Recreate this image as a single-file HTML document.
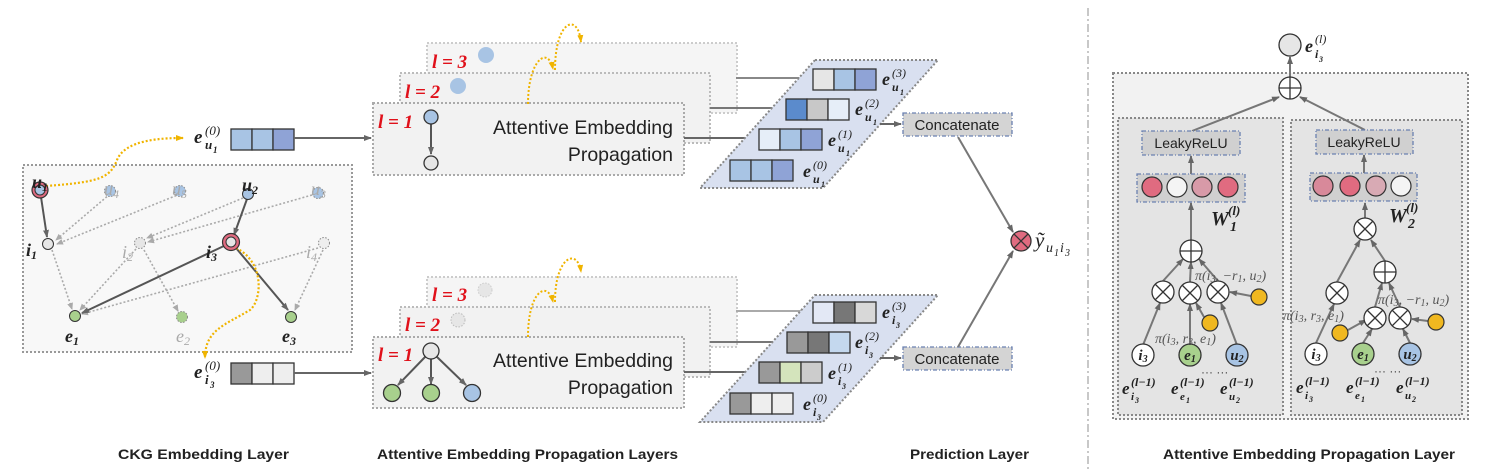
<!DOCTYPE html>
<html><head><meta charset="utf-8"><style>
html,body{margin:0;padding:0;background:#fff;}
svg{display:block;font-family:"Liberation Sans",sans-serif;}
.m{font-family:"Liberation Serif",serif;font-style:italic;font-weight:bold;}
.ms{font-family:"Liberation Serif",serif;font-style:italic;}
</style></head><body>
<svg width="1510" height="476" viewBox="0 0 1510 476" xmlns="http://www.w3.org/2000/svg">
<defs>
<marker id="a" markerWidth="8" markerHeight="8" refX="7" refY="4" orient="auto" markerUnits="userSpaceOnUse"><path d="M0,1 L8,4 L0,7 z" fill="#666"/></marker>
<marker id="ag" markerWidth="7" markerHeight="7" refX="6" refY="3.5" orient="auto" markerUnits="userSpaceOnUse"><path d="M0,0.5 L7,3.5 L0,6.5 z" fill="#aaa"/></marker>
<marker id="ay" markerWidth="8" markerHeight="8" refX="7" refY="4" orient="auto" markerUnits="userSpaceOnUse"><path d="M0,1 L8,4 L0,7 z" fill="#f0b400"/></marker>
</defs>

<rect x="23" y="165" width="329" height="187" fill="#f8f8f8" stroke="#999" stroke-width="2" stroke-dasharray="2,2"/>
<g stroke="#aaa" stroke-width="1.6" stroke-dasharray="2,2" fill="none" marker-end="url(#ag)">
<line x1="110" y1="194" x2="56" y2="240"/>
<line x1="180" y1="194" x2="57" y2="244"/>
<line x1="243" y1="198" x2="147" y2="238"/>
<line x1="312" y1="195" x2="148" y2="242"/>
<line x1="52" y1="250" x2="72" y2="309"/>
<line x1="136" y1="249" x2="80" y2="310"/>
<line x1="144" y1="250" x2="178" y2="311"/>
<line x1="318" y1="248" x2="82" y2="314"/>
<line x1="323" y1="250" x2="295" y2="310"/>
</g>
<g stroke="#555" stroke-width="2" fill="none" marker-end="url(#a)">
<line x1="41" y1="197" x2="47" y2="237"/>
<line x1="247" y1="199" x2="234" y2="235"/>
<line x1="226" y1="245" x2="82" y2="313"/>
<line x1="236" y1="248" x2="288" y2="310"/>
</g>
<path d="M46,186 C100,182 110,178 117,160 C125,140 160,138 183,138" stroke="#f0b400" stroke-width="2.2" stroke-dasharray="2,2" fill="none" marker-end="url(#ay)"/>
<path d="M236,248 C265,262 262,300 250,310 C225,325 205,330 205,358" stroke="#f0b400" stroke-width="2.2" stroke-dasharray="2,2" fill="none" marker-end="url(#ay)"/>
<circle cx="40" cy="190" r="8" fill="#e06b80" stroke="#333" stroke-width="1.2"/>
<circle cx="40" cy="190" r="5" fill="#a8c4e4" stroke="#333" stroke-width="1"/>
<circle cx="110" cy="191" r="5.5" fill="#a8c4e4" stroke="#888" stroke-dasharray="1.5,1.5"/>
<circle cx="180" cy="191" r="5.5" fill="#a8c4e4" stroke="#888" stroke-dasharray="1.5,1.5"/>
<circle cx="248" cy="194" r="5.5" fill="#a8c4e4" stroke="#333"/>
<circle cx="318" cy="193" r="5.5" fill="#a8c4e4" stroke="#888" stroke-dasharray="1.5,1.5"/>
<circle cx="48" cy="244" r="5.5" fill="#e6e6e6" stroke="#333"/>
<circle cx="140" cy="243" r="5.5" fill="#e6e6e6" stroke="#888" stroke-dasharray="1.5,1.5"/>
<circle cx="231" cy="242" r="8.5" fill="#e06b80" stroke="#333" stroke-width="1.2"/>
<circle cx="231" cy="242" r="5" fill="#e6e6e6" stroke="#333"/>
<circle cx="324" cy="243" r="5.5" fill="#eee" stroke="#888" stroke-dasharray="1.5,1.5"/>
<circle cx="75" cy="316" r="5.5" fill="#a8d08d" stroke="#333"/>
<circle cx="182" cy="317" r="5.5" fill="#a8d08d" stroke="#888" stroke-dasharray="1.5,1.5"/>
<circle cx="291" cy="317" r="5.5" fill="#a8d08d" stroke="#333"/>
<g class="m" font-size="18" fill="#222">
<text x="32" y="188">u<tspan font-size="12" dy="3">1</tspan></text>
<text x="242" y="191">u<tspan font-size="12" dy="3">2</tspan></text>
<text x="26" y="256">i<tspan font-size="12" dy="3">1</tspan></text>
<text x="206" y="258">i<tspan font-size="12" dy="3">3</tspan></text>
<text x="65" y="342">e<tspan font-size="12" dy="3">1</tspan></text>
<text x="282" y="342">e<tspan font-size="12" dy="3">3</tspan></text>
</g>
<g class="ms" font-size="18" fill="#aaa">
<text x="104" y="195">u<tspan font-size="12" dy="3">4</tspan></text>
<text x="172" y="195">u<tspan font-size="12" dy="3">5</tspan></text>
<text x="311" y="195">u<tspan font-size="12" dy="3">3</tspan></text>
<text x="122" y="258">i<tspan font-size="12" dy="3">2</tspan></text>
<text x="306" y="258">i<tspan font-size="12" dy="3">4</tspan></text>
<text x="176" y="342">e<tspan font-size="12" dy="3">2</tspan></text>
</g>

<g stroke="#333" stroke-width="1.3">
<rect x="231" y="129" width="21" height="21" fill="#a8c4e4"/><rect x="252" y="129" width="21" height="21" fill="#a8c4e4"/><rect x="273" y="129" width="21" height="21" fill="#8fa3d6"/>
<rect x="231" y="363" width="21" height="21" fill="#999"/><rect x="252" y="363" width="21" height="21" fill="#eee"/><rect x="273" y="363" width="21" height="21" fill="#eee"/>
</g>
<g class="m" fill="#222">
<g transform="translate(194,143)"><text font-size="19">e</text><text x="11" y="6" font-size="13">u</text><text x="19" y="10" font-size="9">1</text><text x="11" y="-8" font-size="13" class="ms" font-weight="normal">(0)</text></g>
<g transform="translate(194,378)"><text font-size="19">e</text><text x="11" y="6" font-size="13">i</text><text x="16" y="10" font-size="9">3</text><text x="11" y="-8" font-size="13" class="ms" font-weight="normal">(0)</text></g>
</g>
<line x1="294" y1="138" x2="371" y2="138" stroke="#666" stroke-width="2" marker-end="url(#a)"/>
<line x1="294" y1="373" x2="371" y2="373" stroke="#666" stroke-width="2" marker-end="url(#a)"/>

<g stroke="#aaa" stroke-width="2" stroke-dasharray="2,2" fill="#f2f2f2">
<rect x="427" y="43" width="310" height="70" stroke="#ccc" fill="#f5f5f5"/>
<rect x="400" y="73" width="310" height="70" stroke="#bbb"/>
<rect x="373" y="103" width="311" height="72"/>
</g>
<line x1="736" y1="78" x2="811" y2="78" stroke="#888" stroke-width="2" marker-end="url(#a)"/>
<line x1="710" y1="108" x2="784" y2="108" stroke="#777" stroke-width="2" marker-end="url(#a)"/>
<line x1="684" y1="138" x2="757" y2="138" stroke="#666" stroke-width="2" marker-end="url(#a)"/>
<circle cx="486" cy="55" r="8" fill="#a8c4e4"/>
<circle cx="458" cy="86" r="8" fill="#a8c4e4"/>
<line x1="431" y1="124" x2="431" y2="154" stroke="#555" stroke-width="2" marker-end="url(#a)"/>
<circle cx="431" cy="117" r="7" fill="#a8c4e4" stroke="#333" stroke-width="1.3"/>
<circle cx="431" cy="163" r="7" fill="#e6e6e6" stroke="#333" stroke-width="1.3"/>
<g class="m" fill="#e0101a" font-size="19">
<text x="432" y="68">l = 3</text><text x="405" y="98">l = 2</text><text x="378" y="128">l = 1</text>
</g>
<g font-size="19.5" fill="#222" text-anchor="end"><text x="673" y="134">Attentive Embedding</text><text x="673" y="161">Propagation</text></g>
<path d="M528,104 C528,60 548,45 553,69" stroke="#f0b400" stroke-width="2" stroke-dasharray="2,2" fill="none" marker-end="url(#ay)"/>
<path d="M555,70 C555,20 578,12 581,42" stroke="#f0b400" stroke-width="2" stroke-dasharray="2,2" fill="none" marker-end="url(#ay)"/>

<g stroke="#aaa" stroke-width="2" stroke-dasharray="2,2" fill="#f2f2f2">
<rect x="427" y="277" width="310" height="70" stroke="#ccc" fill="#f5f5f5"/>
<rect x="400" y="307" width="310" height="70" stroke="#bbb"/>
<rect x="373" y="337" width="311" height="71"/>
</g>
<line x1="736" y1="311" x2="811" y2="311" stroke="#aaa" stroke-width="2" marker-end="url(#ag)"/>
<line x1="710" y1="342" x2="784" y2="342" stroke="#777" stroke-width="2" marker-end="url(#a)"/>
<line x1="684" y1="372" x2="757" y2="372" stroke="#666" stroke-width="2" marker-end="url(#a)"/>
<circle cx="485" cy="290" r="7" fill="#e6e6e6" stroke="#ccc" stroke-dasharray="1.5,1.5"/>
<circle cx="458" cy="320" r="7" fill="#e6e6e6" stroke="#bbb" stroke-dasharray="1.5,1.5"/>
<g stroke="#555" stroke-width="2" marker-end="url(#a)">
<line x1="426" y1="356" x2="398" y2="385"/><line x1="431" y1="358" x2="431" y2="384"/><line x1="436" y1="356" x2="466" y2="385"/>
</g>
<circle cx="431" cy="351" r="8" fill="#e6e6e6" stroke="#333" stroke-width="1.3"/>
<circle cx="392" cy="393" r="8.5" fill="#a8d08d" stroke="#333" stroke-width="1.3"/>
<circle cx="431" cy="393" r="8.5" fill="#a8d08d" stroke="#333" stroke-width="1.3"/>
<circle cx="472" cy="393" r="8.5" fill="#a8c4e4" stroke="#333" stroke-width="1.3"/>
<g class="m" fill="#e0101a" font-size="19">
<text x="432" y="301">l = 3</text><text x="405" y="331">l = 2</text><text x="378" y="361">l = 1</text>
</g>
<g font-size="19.5" fill="#222" text-anchor="end"><text x="673" y="367">Attentive Embedding</text><text x="673" y="394">Propagation</text></g>
<path d="M528,337 C528,290 548,280 553,302" stroke="#f0b400" stroke-width="2" stroke-dasharray="2,2" fill="none" marker-end="url(#ay)"/>
<path d="M555,302 C555,255 578,248 581,272" stroke="#f0b400" stroke-width="2" stroke-dasharray="2,2" fill="none" marker-end="url(#ay)"/>

<polygon points="815,60 938,60 823,188 700,188" fill="#d9e0f0" stroke="#888" stroke-width="2" stroke-dasharray="2,2"/>
<polygon points="815,295 938,295 823,422 700,422" fill="#d9e0f0" stroke="#888" stroke-width="2" stroke-dasharray="2,2"/>
<g stroke="#333" stroke-width="1.3">
<rect x="813" y="69" width="21" height="21" fill="#e6e6e6"/><rect x="834" y="69" width="21" height="21" fill="#a8c4e4"/><rect x="855" y="69" width="21" height="21" fill="#8fa3d6"/>
<rect x="786" y="99" width="21" height="21" fill="#5b8bcc"/><rect x="807" y="99" width="21" height="21" fill="#c8c8c8"/><rect x="828" y="99" width="21" height="21" fill="#e6eef8"/>
<rect x="759" y="129" width="21" height="21" fill="#e6eef8"/><rect x="780" y="129" width="21" height="21" fill="#a8c4e4"/><rect x="801" y="129" width="21" height="21" fill="#8fa3d6"/>
<rect x="730" y="160" width="21" height="21" fill="#a8c4e4"/><rect x="751" y="160" width="21" height="21" fill="#a8c4e4"/><rect x="772" y="160" width="21" height="21" fill="#8fa3d6"/>
<rect x="813" y="302" width="21" height="21" fill="#e3e8f5"/><rect x="834" y="302" width="21" height="21" fill="#777"/><rect x="855" y="302" width="21" height="21" fill="#d8d8d8"/>
<rect x="787" y="332" width="21" height="21" fill="#999"/><rect x="808" y="332" width="21" height="21" fill="#777"/><rect x="829" y="332" width="21" height="21" fill="#c4d8ee"/>
<rect x="759" y="362" width="21" height="21" fill="#999"/><rect x="780" y="362" width="21" height="21" fill="#d4e4bc"/><rect x="801" y="362" width="21" height="21" fill="#ccc"/>
<rect x="730" y="393" width="21" height="21" fill="#999"/><rect x="751" y="393" width="21" height="21" fill="#eee"/><rect x="772" y="393" width="21" height="21" fill="#eee"/>
</g>
<g class="m" fill="#222">
<g transform="translate(882,85)"><text font-size="18">e</text><text x="10" y="6" font-size="12">u</text><text x="18" y="10" font-size="8">1</text><text x="10" y="-8" font-size="12" class="ms" font-weight="normal">(3)</text></g>
<g transform="translate(855,115)"><text font-size="18">e</text><text x="10" y="6" font-size="12">u</text><text x="18" y="10" font-size="8">1</text><text x="10" y="-8" font-size="12" class="ms" font-weight="normal">(2)</text></g>
<g transform="translate(828,146)"><text font-size="18">e</text><text x="10" y="6" font-size="12">u</text><text x="18" y="10" font-size="8">1</text><text x="10" y="-8" font-size="12" class="ms" font-weight="normal">(1)</text></g>
<g transform="translate(803,177)"><text font-size="18">e</text><text x="10" y="6" font-size="12">u</text><text x="18" y="10" font-size="8">1</text><text x="10" y="-8" font-size="12" class="ms" font-weight="normal">(0)</text></g>
<g transform="translate(882,318)"><text font-size="18">e</text><text x="10" y="6" font-size="12">i</text><text x="14" y="10" font-size="8">3</text><text x="10" y="-8" font-size="12" class="ms" font-weight="normal">(3)</text></g>
<g transform="translate(855,348)"><text font-size="18">e</text><text x="10" y="6" font-size="12">i</text><text x="14" y="10" font-size="8">3</text><text x="10" y="-8" font-size="12" class="ms" font-weight="normal">(2)</text></g>
<g transform="translate(828,379)"><text font-size="18">e</text><text x="10" y="6" font-size="12">i</text><text x="14" y="10" font-size="8">3</text><text x="10" y="-8" font-size="12" class="ms" font-weight="normal">(1)</text></g>
<g transform="translate(803,410)"><text font-size="18">e</text><text x="10" y="6" font-size="12">i</text><text x="14" y="10" font-size="8">3</text><text x="10" y="-8" font-size="12" class="ms" font-weight="normal">(0)</text></g>
</g>
<line x1="880" y1="124" x2="901" y2="124" stroke="#666" stroke-width="2" marker-end="url(#a)"/>
<line x1="880" y1="358" x2="901" y2="358" stroke="#666" stroke-width="2" marker-end="url(#a)"/>
<g stroke="#6a80b0" stroke-width="1.3" stroke-dasharray="4,2,1,2" fill="#d4d4d4">
<rect x="903" y="113" width="109" height="23"/><rect x="903" y="347" width="109" height="23"/>
</g>
<g font-size="15" fill="#222" text-anchor="middle"><text x="957" y="130">Concatenate</text><text x="957" y="364">Concatenate</text></g>
<line x1="958" y1="137" x2="1013" y2="232" stroke="#777" stroke-width="2" marker-end="url(#a)"/>
<line x1="958" y1="347" x2="1013" y2="251" stroke="#777" stroke-width="2" marker-end="url(#a)"/>
<circle cx="1021" cy="241" r="10" fill="#e06b80" stroke="#333" stroke-width="1.3"/>
<path d="M1014,234 L1028,248 M1028,234 L1014,248" stroke="#333" stroke-width="1.3"/>
<g class="ms" fill="#222"><text x="1035" y="247" font-size="21">ỹ</text><text x="1046" y="252" font-size="14">u</text><text x="1054" y="256" font-size="10">1</text><text x="1060" y="252" font-size="14">i</text><text x="1065" y="256" font-size="10">3</text></g>

<line x1="1088" y1="8" x2="1088" y2="470" stroke="#aaa" stroke-width="1.3" stroke-dasharray="8,3,2,3"/>

<rect x="1113" y="73" width="355" height="346" fill="#f2f2f2" stroke="#888" stroke-width="2" stroke-dasharray="2,2"/>
<rect x="1118" y="118" width="165" height="297" fill="#e4e4e4" stroke="#888" stroke-width="2" stroke-dasharray="2,2"/>
<rect x="1291" y="120" width="171" height="295" fill="#e4e4e4" stroke="#888" stroke-width="2" stroke-dasharray="2,2"/>
<g stroke="#777" stroke-width="2" fill="none" marker-end="url(#a)">
<line x1="1290" y1="77" x2="1290" y2="57"/>
<line x1="1192" y1="131" x2="1279" y2="97"/>
<line x1="1365" y1="130" x2="1300" y2="97"/>
<line x1="1191" y1="174" x2="1191" y2="156"/>
<line x1="1364" y1="174" x2="1364" y2="155"/>
<line x1="1191" y1="240" x2="1191" y2="203"/>
<line x1="1365" y1="218" x2="1365" y2="203"/>
<line x1="1143" y1="345" x2="1160" y2="303"/>
<line x1="1190" y1="345" x2="1190" y2="304"/>
<line x1="1237" y1="345" x2="1221" y2="303"/>
<line x1="1163" y1="281" x2="1183" y2="259"/>
<line x1="1190" y1="282" x2="1191" y2="262"/>
<line x1="1218" y1="281" x2="1199" y2="259"/>
<line x1="1251" y1="296" x2="1230" y2="292"/>
<line x1="1204" y1="317" x2="1196" y2="303"/>
<line x1="1316" y1="343" x2="1334" y2="304"/>
<line x1="1337" y1="282" x2="1360" y2="240"/>
<line x1="1385" y1="261" x2="1371" y2="240"/>
<line x1="1375" y1="307" x2="1382" y2="283"/>
<line x1="1400" y1="307" x2="1389" y2="283"/>
<line x1="1363" y1="343" x2="1372" y2="329"/>
<line x1="1410" y1="343" x2="1403" y2="329"/>
<line x1="1348" y1="330" x2="1366" y2="320"/>
<line x1="1428" y1="321" x2="1412" y2="319"/>
</g>
<circle cx="1290" cy="45" r="11" fill="#e6e6e6" stroke="#333" stroke-width="1.3"/>
<g class="m" fill="#222" transform="translate(1305,52)"><text font-size="18">e</text><text x="10" y="6" font-size="12">i</text><text x="14" y="10" font-size="8">3</text><text x="10" y="-9" font-size="12" class="ms" font-weight="normal">(l)</text></g>
<g stroke="#6a80b0" stroke-width="1.3" stroke-dasharray="4,2,1,2" fill="#d0d0d0">
<rect x="1142" y="131" width="98" height="24"/><rect x="1316" y="130" width="97" height="24"/>
<rect x="1137" y="174" width="108" height="28"/><rect x="1310" y="173" width="107" height="28"/>
</g>
<g font-size="14" fill="#222" text-anchor="middle"><text x="1191" y="148">LeakyReLU</text><text x="1364" y="147">LeakyReLU</text></g>
<g stroke="#333" stroke-width="1.2">
<circle cx="1152" cy="187" r="10" fill="#e06b80"/><circle cx="1177" cy="187" r="10" fill="#f4f4f4"/><circle cx="1202" cy="187" r="10" fill="#d89aa8"/><circle cx="1228" cy="187" r="10" fill="#e06b80"/>
<circle cx="1323" cy="186" r="10" fill="#d8899a"/><circle cx="1350" cy="186" r="10" fill="#e06b80"/><circle cx="1376" cy="186" r="10" fill="#d8aab4"/><circle cx="1401" cy="186" r="10" fill="#f4f4f4"/>
</g>
<g class="m" fill="#222">
<g transform="translate(1211,225)"><text font-size="20">W</text><text x="19" y="6" font-size="14">1</text><text x="17" y="-10" font-size="13">(l)</text></g>
<g transform="translate(1389,222)"><text font-size="20">W</text><text x="19" y="6" font-size="14">2</text><text x="17" y="-10" font-size="13">(l)</text></g>
</g>
<g stroke="#333" stroke-width="1.3" fill="#fff">
<circle cx="1290" cy="88" r="11"/><circle cx="1191" cy="251" r="11"/><circle cx="1385" cy="272" r="11"/>
<circle cx="1163" cy="292" r="11"/><circle cx="1190" cy="293" r="11"/><circle cx="1218" cy="292" r="11"/>
<circle cx="1365" cy="229" r="11"/><circle cx="1337" cy="293" r="11"/><circle cx="1375" cy="318" r="11"/><circle cx="1400" cy="318" r="11"/>
</g>
<g stroke="#333" stroke-width="1.3">
<path d="M1279,88 H1301 M1290,77 V99"/><path d="M1180,251 H1202 M1191,240 V262"/><path d="M1374,272 H1396 M1385,261 V283"/>
<path d="M1155,284 L1171,300 M1171,284 L1155,300"/><path d="M1182,285 L1198,301 M1198,285 L1182,301"/><path d="M1210,284 L1226,300 M1226,284 L1210,300"/>
<path d="M1357,221 L1373,237 M1373,221 L1357,237"/><path d="M1329,285 L1345,301 M1345,285 L1329,301"/><path d="M1367,310 L1383,326 M1383,310 L1367,326"/><path d="M1392,310 L1408,326 M1408,310 L1392,326"/>
</g>
<g stroke="#333" stroke-width="1.2" fill="#f0b820">
<circle cx="1259" cy="297" r="8"/><circle cx="1210" cy="323" r="8"/><circle cx="1340" cy="333" r="8"/><circle cx="1436" cy="322" r="8"/>
</g>
<g stroke="#333" stroke-width="1.3">
<circle cx="1143" cy="355" r="11" fill="#fff"/><circle cx="1190" cy="355" r="11" fill="#a8d08d"/><circle cx="1237" cy="355" r="11" fill="#a8c4e4"/>
<circle cx="1316" cy="354" r="11" fill="#fff"/><circle cx="1363" cy="354" r="11" fill="#a8d08d"/><circle cx="1410" cy="354" r="11" fill="#a8c4e4"/>
</g>
<g class="m" font-size="15" fill="#222" text-anchor="middle">
<text x="1143" y="360">i<tspan font-size="10" dy="2">3</tspan></text><text x="1190" y="360">e<tspan font-size="10" dy="2">1</tspan></text><text x="1237" y="360">u<tspan font-size="10" dy="2">2</tspan></text>
<text x="1316" y="359">i<tspan font-size="10" dy="2">3</tspan></text><text x="1363" y="359">e<tspan font-size="10" dy="2">1</tspan></text><text x="1410" y="359">u<tspan font-size="10" dy="2">2</tspan></text>
</g>
<g class="ms" font-size="14" fill="#555">
<text x="1195" y="280">π(i<tspan font-size="10" dy="2">3</tspan><tspan dy="-2">, −r</tspan><tspan font-size="10" dy="2">1</tspan><tspan dy="-2">, u</tspan><tspan font-size="10" dy="2">2</tspan><tspan dy="-2">)</tspan></text>
<text x="1155" y="343">π(i<tspan font-size="10" dy="2">3</tspan><tspan dy="-2">, r</tspan><tspan font-size="10" dy="2">3</tspan><tspan dy="-2">, e</tspan><tspan font-size="10" dy="2">1</tspan><tspan dy="-2">)</tspan></text>
<text x="1378" y="304">π(i<tspan font-size="10" dy="2">3</tspan><tspan dy="-2">, −r</tspan><tspan font-size="10" dy="2">1</tspan><tspan dy="-2">, u</tspan><tspan font-size="10" dy="2">2</tspan><tspan dy="-2">)</tspan></text>
<text x="1283" y="320">π(i<tspan font-size="10" dy="2">3</tspan><tspan dy="-2">, r</tspan><tspan font-size="10" dy="2">3</tspan><tspan dy="-2">, e</tspan><tspan font-size="10" dy="2">1</tspan><tspan dy="-2">)</tspan></text>
</g>
<g class="m" fill="#222">
<g transform="translate(1122,394)"><text font-size="17">e</text><text x="9" y="6" font-size="11">i</text><text x="13" y="9" font-size="8">3</text><text x="9" y="-8" font-size="12">(l−1)</text></g>
<g transform="translate(1171,394)"><text font-size="17">e</text><text x="9" y="6" font-size="11">e</text><text x="15" y="9" font-size="8">1</text><text x="9" y="-8" font-size="12">(l−1)</text></g>
<g transform="translate(1220,394)"><text font-size="17">e</text><text x="9" y="6" font-size="11">u</text><text x="16" y="9" font-size="8">2</text><text x="9" y="-8" font-size="12">(l−1)</text></g>
<g transform="translate(1296,393)"><text font-size="17">e</text><text x="9" y="6" font-size="11">i</text><text x="13" y="9" font-size="8">3</text><text x="9" y="-8" font-size="12">(l−1)</text></g>
<g transform="translate(1346,393)"><text font-size="17">e</text><text x="9" y="6" font-size="11">e</text><text x="15" y="9" font-size="8">1</text><text x="9" y="-8" font-size="12">(l−1)</text></g>
<g transform="translate(1396,393)"><text font-size="17">e</text><text x="9" y="6" font-size="11">u</text><text x="16" y="9" font-size="8">2</text><text x="9" y="-8" font-size="12">(l−1)</text></g>
</g>
<g font-size="12" fill="#444"><text x="1201" y="376">··· ···</text><text x="1374" y="375">··· ···</text></g>

<g font-size="14" font-weight="bold" fill="#222">
<text x="118" y="459" textLength="171" lengthAdjust="spacingAndGlyphs">CKG Embedding Layer</text>
<text x="377" y="459" textLength="301" lengthAdjust="spacingAndGlyphs">Attentive Embedding Propagation Layers</text>
<text x="910" y="459" textLength="119" lengthAdjust="spacingAndGlyphs">Prediction Layer</text>
<text x="1163" y="459" textLength="292" lengthAdjust="spacingAndGlyphs">Attentive Embedding Propagation Layer</text>
</g>
</svg>
</body></html>
